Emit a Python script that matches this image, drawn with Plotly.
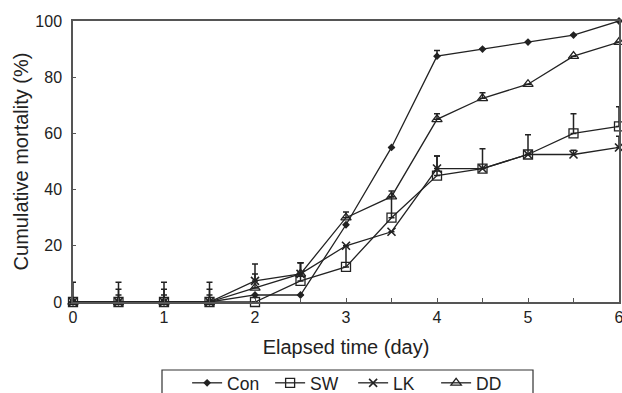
import plotly.graph_objects as go

days = [0, 0.5, 1, 1.5, 2, 2.5, 3, 3.5, 4, 4.5, 5, 5.5, 6]

con = [0, 0, 0, 0, 2.5, 2.5, 27.5, 55, 87.5, 90, 92.5, 95, 100]
sw = [0, 0, 0, 0, 0, 7.5, 12.5, 30, 45, 47.5, 52.5, 60, 62.5]
lk = [0, 0, 0, 0, 7.5, 10, 20, 25, 47.5, 47.5, 52.5, 52.5, 55]
dd = [0, 0, 0, 0, 5, 10, 30, 37.5, 65, 72.5, 77.5, 87.5, 92.5]

con_err = [0, 0, 0, 0, 0, 0, 0, 0, 2, 0, 0, 0, 0]
sw_err = [7, 7, 7, 7, 0, 6.5, 7.5, 7.5, 7, 7, 7, 7, 7]
lk_err = [0, 4.5, 4.5, 4.5, 6, 4, 0, 0, 4.5, 0, 0, 1.5, 4]
dd_err = [0, 2.5, 2.5, 2.5, 5, 4, 2, 2, 2, 2, 0, 0, 0]

series = [
    ("Con", con, con_err, dict(symbol="diamond", size=6, color="#222222",
                                line=dict(width=0))),
    ("SW", sw, sw_err, dict(symbol="square-open", size=9, color="#222222",
                            line=dict(width=1.3, color="#222222"))),
    ("LK", lk, lk_err, dict(symbol="x-thin-open", size=8, color="#222222",
                            line=dict(width=1.6, color="#222222"))),
    ("DD", dd, dd_err, dict(symbol="triangle-up-open", size=9, color="#222222",
                            line=dict(width=1.3, color="#222222"))),
]

fig = go.Figure()
for name, vals, err, mk in series:
    fig.add_trace(go.Scatter(
        x=days, y=vals, name=name, mode="lines+markers",
        line=dict(color="#222222", width=1.3),
        marker=mk,
        error_y=dict(type="data", array=err, arrayminus=[0] * len(err),
                     symmetric=False, color="#222222", thickness=1.5, width=3),
        cliponaxis=False,
    ))

font_family = "Liberation Sans, Arial, sans-serif"
axis_color = "#555555"

fig.update_layout(
    width=622, height=393,
    margin=dict(l=73, r=3, t=21, b=91, autoexpand=False),
    plot_bgcolor="white", paper_bgcolor="white",
    font=dict(family=font_family, size=16, color="#222222"),
    showlegend=True,
    legend=dict(orientation="h", x=0.209, y=-0.224, xanchor="left", yanchor="top",
                entrywidth=38, itemwidth=30, bgcolor="rgba(0,0,0,0)",
                font=dict(size=17.5, family=font_family, color="#222222")),
    shapes=[dict(type="rect", xref="paper", yref="paper",
                 x0=0.163, x1=0.8425, y0=-0.242, y1=-0.36,
                 line=dict(color="#333333", width=1.2))],
)

fig.update_xaxes(
    range=[0, 6], tickmode="linear", tick0=0, dtick=1,
    showline=True, linecolor=axis_color, linewidth=1.5, mirror=True,
    ticks="inside", ticklen=4, tickcolor=axis_color,
    minor=dict(dtick=0.5, ticks="inside", ticklen=4, tickcolor=axis_color),
    showgrid=False, zeroline=False, ticklabeloverflow="allow",
    tickfont=dict(size=16),
    title=dict(text="Elapsed time (day)", font=dict(size=20), standoff=15),
)
fig.update_yaxes(
    range=[0, 100], tickmode="linear", tick0=0, dtick=20,
    showline=True, linecolor=axis_color, linewidth=1.5, mirror=True,
    ticks="inside", ticklen=3, tickcolor=axis_color,
    showgrid=False, zeroline=False,
    tickfont=dict(size=16), ticklabelstandoff=6,
    title=dict(text="Cumulative mortality (%)", font=dict(size=20), standoff=1),
)

fig.write_html(
    "out.html",
    config={"displayModeBar": False},
    post_script="document.body.style.margin='0';document.body.style.overflow='hidden';",
)
